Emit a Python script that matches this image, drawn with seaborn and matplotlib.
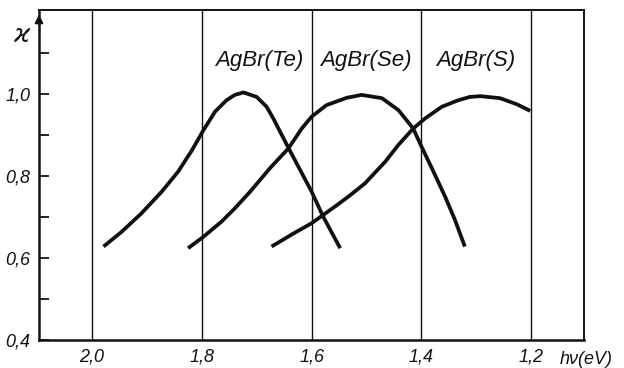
import pandas as pd
import matplotlib
matplotlib.use("Agg")
import matplotlib.pyplot as plt
import seaborn as sns
from matplotlib.ticker import FixedLocator, FuncFormatter

# --- DATA ---
te_x = [1.979, 1.946, 1.910, 1.873, 1.843, 1.818, 1.797, 1.776, 1.755, 1.740,
        1.724, 1.700, 1.682, 1.670, 1.642, 1.621, 1.600, 1.579, 1.548]
te_y = [0.628, 0.664, 0.709, 0.762, 0.811, 0.863, 0.912, 0.957, 0.985, 0.998,
        1.004, 0.993, 0.969, 0.941, 0.868, 0.815, 0.762, 0.701, 0.624]

se_x = [1.825, 1.797, 1.764, 1.740, 1.712, 1.676, 1.642, 1.618, 1.600, 1.573,
        1.536, 1.509, 1.472, 1.442, 1.415, 1.400, 1.381, 1.357, 1.339, 1.321]
se_y = [0.624, 0.652, 0.689, 0.721, 0.762, 0.819, 0.868, 0.916, 0.945, 0.973,
        0.991, 0.998, 0.990, 0.961, 0.916, 0.872, 0.819, 0.750, 0.693, 0.628]

s_x = [1.673, 1.633, 1.600, 1.579, 1.554, 1.533, 1.503, 1.466, 1.442, 1.415,
       1.393, 1.363, 1.333, 1.312, 1.293, 1.257, 1.226, 1.202]
s_y = [0.628, 0.660, 0.685, 0.705, 0.729, 0.750, 0.782, 0.835, 0.876, 0.916,
       0.941, 0.969, 0.985, 0.993, 0.995, 0.990, 0.975, 0.959]

curve_names = ["AgBr(Te)", "AgBr(Se)", "AgBr(S)"]
label_x = [1.696, 1.501, 1.302]
label_y = [1.083, 1.083, 1.083]

x_ticks = [2.0, 1.8, 1.6, 1.4, 1.2]
y_ticks = [0.4, 0.6, 0.8, 1.0]
y_minor = [0.5, 0.7, 0.9, 1.1]

# --- STYLE ---
sns.set_style("white")
plt.rcParams["font.family"] = ["Liberation Sans", "DejaVu Sans"]
plt.rcParams["font.style"] = "italic"

fig = plt.figure(figsize=(6.24, 3.68), dpi=100)
ax = fig.add_axes([0.0625, 0.076, 0.8734, 0.8967])

for cx, cy in [(te_x, te_y), (se_x, se_y), (s_x, s_y)]:
    sns.lineplot(x=cx, y=cy, ax=ax, sort=False, estimator=None,
                 color="#111111", linewidth=2.7, solid_joinstyle="round",
                 solid_capstyle="butt")

for name, lx, ly in zip(curve_names, label_x, label_y):
    ax.text(lx, ly, name, ha="center", va="center", fontsize=16,
            style="italic", color="#111111")

ax.set_xlim(2.0965, 1.104)
ax.set_ylim(0.4, 1.205)

# vertical grid lines at the energy ticks
ax.xaxis.set_major_locator(FixedLocator(x_ticks))
ax.grid(axis="x", color="#111111", linewidth=1.0)
ax.grid(axis="y", visible=False)

comma = FuncFormatter(lambda v, p: f"{v:.1f}".replace(".", ","))
ax.xaxis.set_major_formatter(comma)
ax.yaxis.set_major_locator(FixedLocator(y_ticks))
ax.yaxis.set_minor_locator(FixedLocator(y_minor))
ax.yaxis.set_major_formatter(comma)

ax.tick_params(axis="x", length=0, pad=6, labelsize=13, colors="#111111")
ax.tick_params(axis="y", which="both", direction="in", length=7, width=1.3,
               pad=6, labelsize=13, colors="#111111", left=True)

for side in ["left", "bottom", "top", "right"]:
    ax.spines[side].set_visible(True)
    ax.spines[side].set_color("#111111")
    ax.spines[side].set_linewidth(1.4)
ax.spines["left"].set_linewidth(1.8)
ax.spines["bottom"].set_linewidth(1.8)

# arrow on the y axis and axis labels
ax.annotate("", xy=(0, 0.995), xytext=(0, 0.95), xycoords="axes fraction",
            arrowprops=dict(arrowstyle="-|>", color="#111111", lw=1.4,
                            mutation_scale=12))
ax.text(-0.031, 0.924, r"$\varkappa$", transform=ax.transAxes, ha="center",
        va="center", fontsize=18, color="#111111")
ax.text(0.955, -0.058, "hν(eV)", transform=ax.transAxes, ha="left",
        va="center", fontsize=13, color="#111111", clip_on=False)

plt.savefig("out.png", dpi=100)
